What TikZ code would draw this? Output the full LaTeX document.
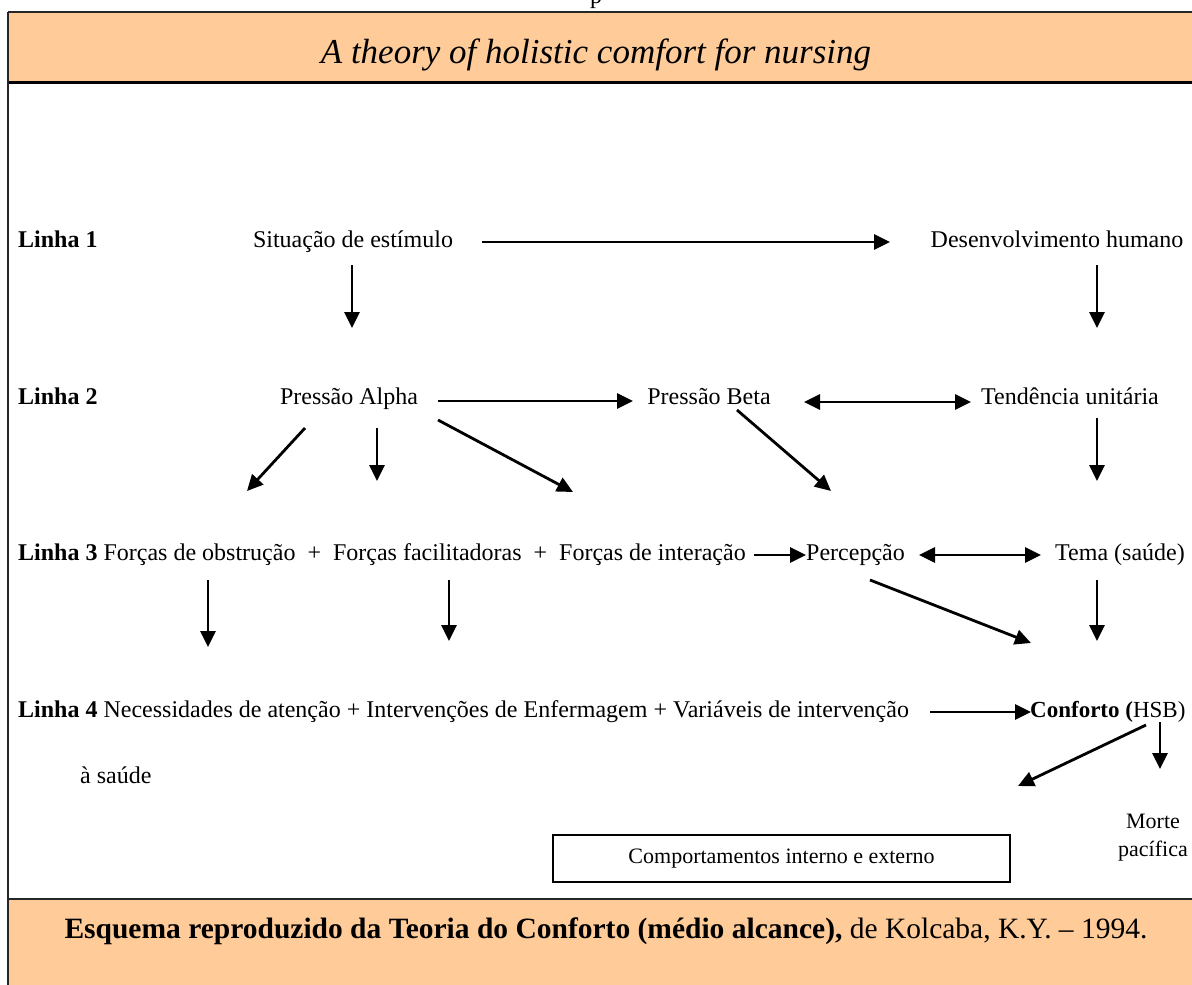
\documentclass[tikz,border=0pt]{standalone}
\usepackage{fontspec}
\setmainfont{Liberation Serif}
\usetikzlibrary{arrows.meta}
\definecolor{peach}{HTML}{FFCC99}
\tikzset{
  txt/.style={inner sep=0pt, anchor=base, font=\fontsize{24}{28}\selectfont},
  txtw/.style={txt, anchor=base west},
  tip/.tip={Triangle[length=16pt,width=15pt]},
  arr/.style={line width=2.8pt, -tip},
  darr/.style={line width=2.8pt, tip-tip},
  frame/.style={line width=1.6pt, draw=black!85}
}
\begin{document}
\begin{tikzpicture}[x=1pt,y=-1pt]
\useasboundingbox (0,0) rectangle (1192,985);
% bands
\fill[peach] (8,12) rectangle (1192,82);
\fill[peach] (8,899) rectangle (1192,985);
\draw[frame] (8,12) -- (1192,12);
\draw[line width=3pt] (8,82) -- (1192,82);
\draw[frame] (8,899) -- (1192,899);
\draw[frame] (8,12) -- (8,985);
% page fragment above the frame
\node[txt] (pg) at (596,3) {p};
% title and footer
\node[inner sep=0pt, anchor=base, font=\fontsize{35}{40}\selectfont\itshape] (title) at (596,63) {A theory of holistic comfort for nursing};
\node[inner sep=0pt, anchor=base, font=\fontsize{29.5}{34}\selectfont] (foot) at (606,938)
  {\textbf{Esquema reproduzido da Teoria do Conforto (médio alcance),} de Kolcaba, K.Y. – 1994.};
% row 1
\node[txtw] (l1) at (18,247) {\textbf{Linha 1}};
\node[txt] (sit) at (353,247) {Situação de estímulo};
\node[txt] (dev) at (1057,247) {Desenvolvimento humano};
% row 2
\node[txtw] (l2) at (18,404) {\textbf{Linha 2}};
\node[txt] (alpha) at (349,404) {Pressão Alpha};
\node[txt] (beta) at (709,404) {Pressão Beta};
\node[txt] (tend) at (1070,404) {Tendência unitária};
% row 3
\node[txtw] (l3) at (18,560) {\textbf{Linha 3} Forças de obstrução~ +~ Forças facilitadoras~ +~ Forças de interação};
\node[txtw] (perc) at (806,560) {Percepção};
\node[txtw] (tema) at (1055,560) {Tema (saúde)};
% row 4
\node[txtw] (l4) at (18,717) {\textbf{Linha 4} Necessidades de atenção + Intervenções de Enfermagem + Variáveis de intervenção};
\node[txtw, font=\fontsize{23}{27}\selectfont] (conf) at (1030,717) {\textbf{Conforto (}HSB)};
\node[txtw] (saude) at (80,783) {à saúde};
\node[txt, font=\fontsize{22}{26}\selectfont] (morte) at (1153,828) {Morte};
\node[txt, font=\fontsize{22}{26}\selectfont] (pacif) at (1153,856) {pacífica};
% outcome box
\node[draw, line width=1.4pt, minimum width=457pt, minimum height=47pt, inner sep=0pt,
      font=\fontsize{22}{26}\selectfont] (box) at (781.5,858.5) {Comportamentos interno e externo};
% arrow end points
\coordinate (a1s) at (482,242);  \coordinate (a1e) at (890,242);
\coordinate (a2s) at (352,265);  \coordinate (a2e) at (352,328);
\coordinate (a3s) at (1097,265); \coordinate (a3e) at (1097,328);
\coordinate (b1s) at (438,401);  \coordinate (b1e) at (633,401);
\coordinate (b2s) at (804,402);  \coordinate (b2e) at (971,402);
\coordinate (c1s) at (305,428);  \coordinate (c1e) at (247,491);
\coordinate (c2s) at (377,428);  \coordinate (c2e) at (377,481);
\coordinate (c3s) at (438,420);  \coordinate (c3e) at (573,492);
\coordinate (c4s) at (737,410);  \coordinate (c4e) at (831,491);
\coordinate (c5s) at (1097,418); \coordinate (c5e) at (1097,481);
\coordinate (d1s) at (754,555);  \coordinate (d1e) at (806,555);
\coordinate (d2s) at (919,555);  \coordinate (d2e) at (1041,555);
\coordinate (e1s) at (208,580);  \coordinate (e1e) at (208,647);
\coordinate (e2s) at (449,580);  \coordinate (e2e) at (449,641);
\coordinate (e3s) at (870,580);  \coordinate (e3e) at (1031,643);
\coordinate (e4s) at (1097,580); \coordinate (e4e) at (1097,641);
\coordinate (f1s) at (930,712);  \coordinate (f1e) at (1031,712);
\coordinate (g1s) at (1146,725); \coordinate (g1e) at (1018,786);
\coordinate (g2s) at (1160,722); \coordinate (g2e) at (1160,769);
% connectors
\draw[arr] (a1s) -- (a1e);
\draw[arr] (a2s) -- (a2e);
\draw[arr] (a3s) -- (a3e);
\draw[arr] (b1s) -- (b1e);
\draw[darr] (b2s) -- (b2e);
\draw[arr] (c1s) -- (c1e);
\draw[arr] (c2s) -- (c2e);
\draw[arr] (c3s) -- (c3e);
\draw[arr] (c4s) -- (c4e);
\draw[arr] (c5s) -- (c5e);
\draw[arr] (d1s) -- (d1e);
\draw[darr] (d2s) -- (d2e);
\draw[arr] (e1s) -- (e1e);
\draw[arr] (e2s) -- (e2e);
\draw[arr] (e3s) -- (e3e);
\draw[arr] (e4s) -- (e4e);
\draw[arr] (f1s) -- (f1e);
\draw[arr] (g1s) -- (g1e);
\draw[arr] (g2s) -- (g2e);
\end{tikzpicture}
\end{document}
